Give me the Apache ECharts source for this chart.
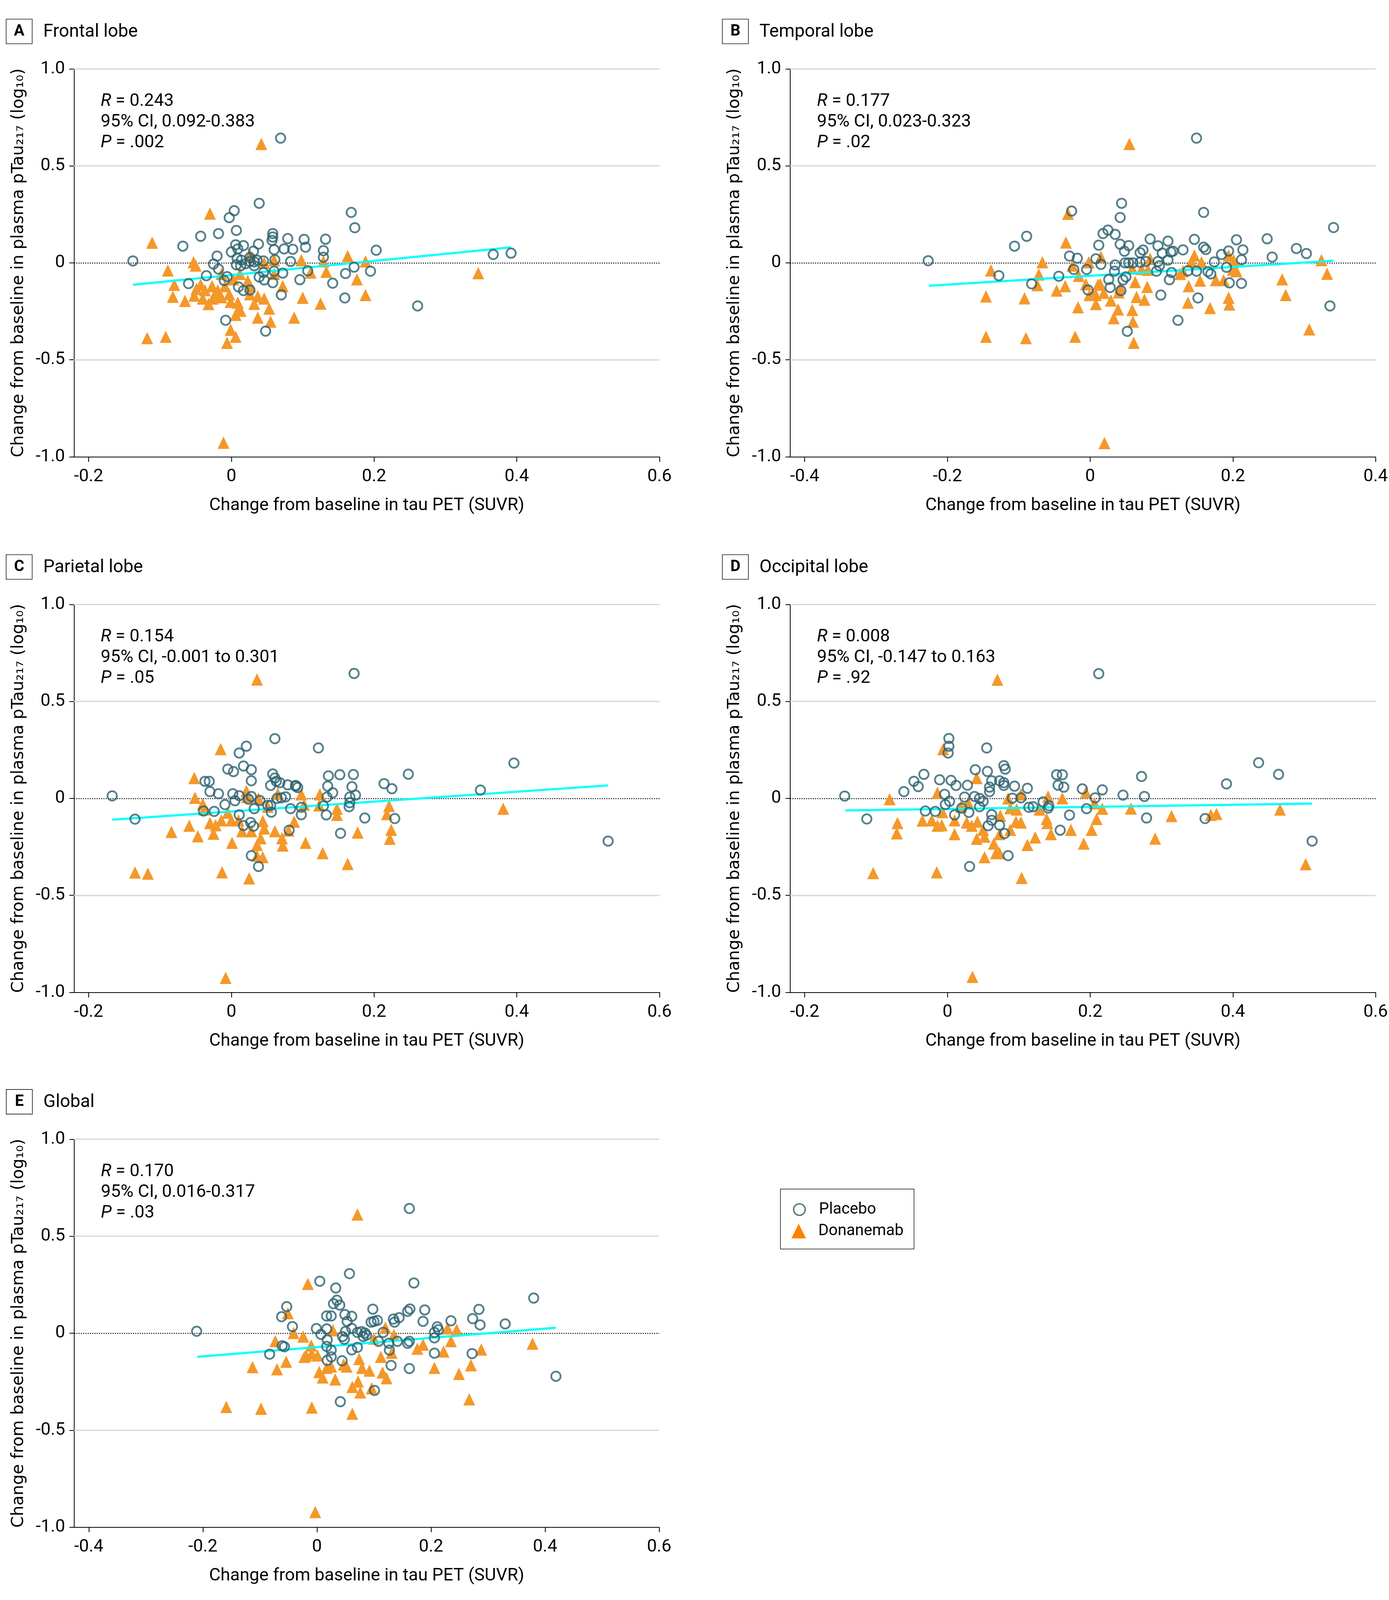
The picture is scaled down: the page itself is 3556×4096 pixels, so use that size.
<!DOCTYPE html>
<html><head><meta charset="utf-8">
<script src="https://cdn.jsdelivr.net/npm/echarts@6/dist/echarts.min.js"></script>
<style>html,body{margin:0;padding:0;background:#fff}#c{width:3556px;height:4096px}</style>
</head><body><div id="c"></div>
<script>
// ---------------- data ----------------
const panelLetters = ['A', 'B', 'C', 'D', 'E'];
const panelTitles = ['Frontal lobe', 'Temporal lobe', 'Parietal lobe', 'Occipital lobe', 'Global'];
const statR = ['0.243', '0.177', '0.154', '0.008', '0.170'];
const statCI = ['0.092-0.383', '0.023-0.323', '-0.001 to 0.301', '-0.147 to 0.163', '0.016-0.317'];
const statP = ['.002', '.02', '.05', '.92', '.03'];

const xTicksFrontal = [-0.2, 0, 0.2, 0.4, 0.6];
const xTicksTemporal = [-0.4, -0.2, 0, 0.2, 0.4];
const xTicksParietal = [-0.2, 0, 0.2, 0.4, 0.6];
const xTicksOccipital = [-0.2, 0, 0.2, 0.4, 0.6];
const xTicksGlobal = [-0.4, -0.2, 0, 0.2, 0.4, 0.6];
const yTicks = [-1, -0.5, 0, 0.5, 1];
const gridLineValues = [1, 0.5, -0.5];
const zeroLineValue = 0;

const frontalPlacebo = [[-0.138,0.010],[0.039,0.307],[0.004,0.269],[-0.003,0.233],[0.168,0.260],[0.173,0.181],[-0.043,0.137],[-0.018,0.151],[0.007,0.167],[-0.068,0.086],[0.058,0.151],[0.058,0.133],[0.057,0.116],[0.079,0.125],[0.102,0.121],[0.132,0.122],[0.038,0.097],[0.006,0.093],[0.017,0.089],[0.000,0.056],[-0.020,0.035],[0.009,0.072],[0.031,0.060],[0.060,0.068],[0.074,0.072],[0.086,0.070],[0.104,0.081],[0.129,0.063],[0.129,0.029],[0.203,0.065],[0.008,0.024],[0.014,0.014],[0.026,0.007],[0.032,0.005],[0.045,0.010],[0.061,0.016],[0.083,0.007],[-0.025,-0.006],[-0.018,-0.032],[0.007,-0.010],[0.020,-0.004],[0.032,-0.015],[0.045,-0.050],[0.060,-0.043],[0.072,-0.053],[0.107,-0.041],[0.172,-0.022],[0.160,-0.055],[0.195,-0.043],[-0.035,-0.066],[-0.006,-0.071],[-0.010,-0.091],[-0.060,-0.107],[0.039,-0.073],[0.046,-0.088],[0.058,-0.102],[0.096,-0.087],[0.142,-0.105],[0.010,-0.124],[0.017,-0.143],[0.026,-0.140],[0.070,-0.165],[0.159,-0.181],[-0.008,-0.296],[0.048,-0.352],[0.261,-0.222],[0.026,0.028],[0.036,0.014],[0.013,-0.015],[0.069,0.643],[0.367,0.043],[0.392,0.050]];
const frontalDonanemab = [[-0.030,0.254],[-0.111,0.104],[-0.053,0.003],[-0.050,-0.014],[-0.089,-0.039],[-0.080,-0.113],[-0.082,-0.175],[-0.065,-0.196],[-0.049,-0.134],[-0.043,-0.113],[-0.052,-0.169],[-0.040,-0.184],[-0.032,-0.212],[-0.027,-0.120],[-0.023,-0.162],[-0.019,-0.141],[-0.014,-0.177],[-0.026,-0.184],[-0.001,-0.201],[-0.003,-0.162],[0.009,-0.205],[0.010,-0.240],[0.013,-0.247],[-0.009,-0.120],[0.003,-0.085],[0.026,-0.120],[0.026,-0.162],[0.037,-0.173],[0.046,-0.184],[0.053,-0.236],[0.037,-0.282],[0.055,-0.303],[-0.001,-0.345],[0.006,-0.381],[-0.006,-0.412],[-0.118,-0.388],[-0.092,-0.381],[0.072,-0.120],[0.088,-0.282],[0.100,-0.180],[0.125,-0.210],[0.176,-0.085],[0.188,-0.166],[0.163,0.035],[0.188,0.007],[0.133,-0.046],[0.111,-0.050],[0.098,0.014],[0.060,0.014],[0.046,0.000],[0.026,0.042],[0.023,-0.092],[0.012,-0.057],[-0.014,-0.057],[-0.037,-0.141],[0.129,0.007],[0.060,-0.057],[0.032,-0.211],[0.006,-0.268],[0.042,0.613],[0.346,-0.053],[-0.011,-0.927]];
const frontalFit = [[-0.138,-0.113],[0.392,0.080]];

const temporalPlacebo = [[0.044,0.307],[-0.026,0.267],[0.042,0.234],[0.159,0.260],[-0.089,0.137],[-0.106,0.086],[0.018,0.151],[0.025,0.169],[0.035,0.147],[0.012,0.091],[0.042,0.096],[0.054,0.089],[0.048,0.060],[0.070,0.052],[0.074,0.066],[0.084,0.123],[0.095,0.088],[0.109,0.112],[0.101,0.050],[0.113,0.056],[0.116,0.060],[0.130,0.067],[0.146,0.121],[0.159,0.081],[0.162,0.069],[0.184,0.043],[0.194,0.061],[0.205,0.119],[0.214,0.067],[0.212,0.016],[0.174,0.005],[0.191,-0.023],[0.137,-0.041],[0.149,-0.043],[0.165,-0.045],[0.169,-0.057],[0.195,-0.103],[0.212,-0.106],[0.151,-0.181],[0.123,-0.296],[0.099,-0.166],[0.111,-0.087],[0.114,-0.050],[0.109,0.014],[0.095,0.007],[0.093,-0.043],[0.097,-0.015],[0.078,0.007],[0.070,0.003],[0.060,0.000],[0.054,0.000],[0.049,0.000],[0.035,-0.011],[0.034,-0.043],[0.015,-0.008],[0.008,0.021],[-0.005,-0.034],[-0.023,-0.034],[-0.018,0.024],[-0.029,0.035],[-0.044,-0.069],[-0.082,-0.108],[-0.128,-0.066],[0.026,-0.086],[0.028,-0.127],[0.046,-0.088],[0.050,-0.072],[0.043,-0.143],[-0.003,-0.140],[0.052,-0.353],[-0.227,0.011],[0.255,0.030],[0.248,0.124],[0.289,0.074],[0.303,0.048],[0.341,0.182],[0.336,-0.222],[0.149,0.643]];
const temporalDonanemab = [[-0.031,0.253],[-0.034,0.105],[-0.067,0.003],[-0.072,-0.060],[-0.074,-0.115],[-0.139,-0.039],[-0.146,-0.173],[-0.092,-0.183],[-0.047,-0.143],[-0.035,-0.120],[-0.025,-0.014],[-0.017,-0.229],[-0.146,-0.381],[-0.090,-0.388],[-0.021,-0.381],[-0.002,0.003],[0.015,0.031],[-0.016,-0.067],[-0.006,-0.110],[-0.001,-0.166],[0.008,-0.166],[0.008,-0.212],[0.011,-0.113],[0.019,-0.155],[0.029,-0.194],[0.039,-0.240],[0.033,-0.285],[0.059,-0.243],[0.060,-0.303],[0.061,-0.412],[0.063,-0.099],[0.065,-0.176],[0.076,-0.190],[0.080,-0.124],[0.040,-0.152],[0.042,-0.127],[0.072,-0.032],[0.084,0.021],[0.081,-0.036],[0.059,-0.029],[0.126,-0.057],[0.138,-0.120],[0.137,-0.205],[0.146,0.038],[0.156,0.003],[0.154,-0.092],[0.168,-0.233],[0.176,-0.089],[0.187,-0.089],[0.194,0.038],[0.194,-0.180],[0.195,-0.215],[0.205,-0.043],[0.201,0.014],[0.142,0.007],[0.130,-0.043],[0.014,-0.110],[0.004,-0.162],[0.200,-0.035],[0.324,0.014],[0.332,-0.056],[0.307,-0.343],[0.269,-0.085],[0.274,-0.166],[0.020,-0.929],[0.055,0.613]];
const temporalFit = [[-0.226,-0.118],[0.341,0.011]];

const parietalPlacebo = [[0.061,0.308],[0.021,0.269],[0.011,0.234],[0.122,0.260],[-0.005,0.151],[0.003,0.138],[0.017,0.167],[0.028,0.148],[0.028,0.091],[-0.037,0.088],[-0.031,0.088],[-0.030,0.035],[-0.018,0.024],[0.058,0.126],[0.061,0.105],[0.063,0.088],[0.055,0.067],[0.068,0.081],[0.079,0.070],[0.090,0.067],[0.093,0.056],[0.136,0.116],[0.152,0.122],[0.171,0.123],[0.248,0.125],[0.214,0.076],[0.225,0.050],[0.135,0.063],[0.142,0.029],[0.169,0.060],[0.174,0.017],[0.166,0.007],[0.134,0.007],[0.129,-0.039],[0.133,-0.085],[0.166,-0.022],[0.165,-0.043],[0.187,-0.101],[0.229,-0.104],[0.153,-0.180],[0.081,-0.164],[0.098,-0.084],[0.098,-0.046],[0.083,-0.053],[0.076,0.008],[0.070,0.003],[0.056,-0.071],[0.055,-0.036],[0.051,-0.036],[0.040,-0.011],[0.028,0.010],[0.024,-0.004],[0.032,-0.053],[0.011,0.014],[0.005,-0.012],[0.002,0.024],[-0.009,-0.032],[-0.024,-0.067],[-0.039,-0.065],[0.011,-0.085],[0.017,-0.140],[0.027,-0.124],[0.031,-0.143],[0.028,-0.295],[0.038,-0.351],[0.090,0.063],[0.064,0.000],[-0.167,0.013],[-0.135,-0.107],[0.172,0.644],[0.349,0.043],[0.396,0.182],[0.528,-0.220]];
const parietalDonanemab = [[-0.015,0.254],[-0.052,0.105],[-0.051,0.003],[-0.040,-0.029],[-0.059,-0.141],[-0.084,-0.173],[-0.047,-0.195],[-0.025,-0.182],[-0.030,-0.127],[-0.022,-0.138],[-0.014,-0.113],[0.000,-0.113],[0.001,-0.229],[-0.005,-0.074],[0.021,0.038],[0.010,-0.113],[0.015,-0.169],[0.028,-0.169],[0.036,-0.240],[0.041,-0.205],[0.044,-0.117],[0.046,-0.155],[0.036,-0.296],[0.044,-0.303],[0.025,-0.412],[-0.013,-0.381],[-0.117,-0.388],[0.061,-0.169],[0.072,-0.243],[0.071,-0.205],[0.065,0.024],[0.088,-0.120],[0.080,-0.166],[0.104,-0.229],[0.098,0.021],[0.102,-0.032],[0.128,-0.282],[0.124,0.021],[0.123,-0.036],[0.148,-0.053],[0.148,-0.085],[0.163,-0.338],[0.177,-0.176],[0.221,-0.039],[0.218,-0.081],[0.224,-0.162],[0.222,-0.208],[0.038,0.000],[0.051,-0.043],[0.022,0.007],[-0.038,-0.057],[-0.135,-0.382],[0.036,0.613],[0.381,-0.053],[-0.008,-0.925]];
const parietalFit = [[-0.167,-0.110],[0.528,0.067]];

const occipitalPlacebo = [[0.002,0.309],[0.002,0.269],[0.001,0.234],[0.055,0.260],[-0.033,0.124],[-0.047,0.088],[-0.041,0.061],[-0.061,0.035],[-0.011,0.096],[0.005,0.093],[0.012,0.067],[0.028,0.068],[0.039,0.148],[0.056,0.139],[0.079,0.169],[0.081,0.151],[0.062,0.091],[0.059,0.058],[0.073,0.091],[0.079,0.081],[0.079,0.067],[0.094,0.063],[0.112,0.052],[0.153,0.122],[0.161,0.122],[0.155,0.068],[0.163,0.058],[0.189,0.049],[0.217,0.044],[0.246,0.017],[0.207,0.003],[0.195,-0.053],[0.171,-0.086],[0.158,-0.164],[0.142,-0.038],[0.134,-0.018],[0.120,-0.043],[0.114,-0.046],[0.103,0.003],[0.091,0.001],[0.059,0.035],[0.045,0.000],[0.050,-0.015],[0.038,0.010],[0.024,0.007],[-0.004,0.021],[0.003,-0.015],[-0.003,-0.032],[-0.017,-0.067],[-0.031,-0.065],[0.020,-0.050],[0.030,-0.072],[0.010,-0.085],[0.045,-0.043],[0.062,-0.084],[0.062,-0.113],[0.057,-0.141],[0.073,-0.138],[0.080,-0.181],[0.085,-0.295],[0.031,-0.351],[0.141,-0.050],[-0.144,0.012],[-0.113,-0.106],[0.212,0.643],[0.391,0.075],[0.436,0.184],[0.464,0.124],[0.361,-0.104],[0.279,-0.101],[0.272,0.113],[0.276,0.010],[0.511,-0.220]];
const occipitalDonanemab = [[-0.006,0.254],[-0.081,-0.004],[-0.070,-0.127],[-0.071,-0.180],[-0.104,-0.385],[-0.015,-0.381],[0.104,-0.410],[-0.014,0.029],[0.041,0.105],[-0.035,-0.114],[-0.022,-0.113],[-0.014,-0.141],[-0.008,-0.138],[0.010,-0.113],[0.010,-0.184],[0.027,-0.124],[0.034,-0.141],[0.042,-0.120],[0.050,-0.162],[0.041,-0.208],[0.052,-0.197],[0.065,-0.233],[0.068,-0.282],[0.073,-0.282],[0.052,-0.303],[0.073,-0.184],[0.074,-0.089],[0.088,-0.162],[0.096,-0.120],[0.103,-0.124],[0.085,0.000],[0.088,-0.050],[0.097,-0.057],[0.103,0.021],[0.123,-0.201],[0.112,-0.240],[0.141,0.010],[0.139,-0.106],[0.140,-0.127],[0.145,-0.184],[0.129,-0.057],[0.161,0.000],[0.173,-0.162],[0.191,-0.233],[0.194,0.031],[0.206,-0.025],[0.217,-0.053],[0.209,-0.106],[0.202,-0.162],[0.257,-0.052],[0.019,-0.043],[-0.007,-0.071],[0.029,-0.022],[0.070,0.612],[0.369,-0.085],[0.377,-0.080],[0.314,-0.091],[0.291,-0.207],[0.466,-0.057],[0.502,-0.339],[0.035,-0.920]];
const occipitalFit = [[-0.143,-0.062],[0.511,-0.027]];

const globalPlacebo = [[0.057,0.307],[0.005,0.268],[0.033,0.233],[0.170,0.259],[-0.053,0.137],[-0.062,0.085],[-0.043,0.034],[-0.061,-0.065],[-0.057,-0.070],[-0.083,-0.108],[-0.001,0.024],[0.007,-0.006],[0.017,0.022],[0.018,-0.034],[0.017,0.089],[0.025,0.089],[0.029,0.152],[0.035,0.170],[0.040,0.145],[0.049,0.096],[0.061,0.087],[0.053,0.061],[0.050,0.009],[0.045,-0.017],[0.061,0.025],[0.071,0.004],[0.078,0.008],[0.084,0.001],[0.087,-0.010],[0.081,-0.017],[0.098,0.124],[0.095,0.057],[0.100,0.061],[0.106,0.066],[0.134,0.073],[0.136,0.057],[0.144,0.080],[0.159,0.113],[0.163,0.125],[0.189,0.120],[0.186,0.061],[0.211,0.033],[0.213,0.018],[0.206,0.004],[0.206,-0.024],[0.235,0.064],[0.284,0.123],[0.273,0.075],[0.286,0.043],[0.330,0.048],[0.272,-0.105],[0.206,-0.103],[0.162,-0.042],[0.159,-0.052],[0.141,-0.042],[0.127,-0.087],[0.126,-0.052],[0.116,0.004],[0.108,-0.042],[0.130,-0.166],[0.162,-0.182],[0.101,-0.295],[0.041,-0.353],[0.017,-0.068],[0.025,-0.087],[0.025,-0.122],[0.018,-0.140],[0.044,-0.142],[0.061,-0.086],[0.071,-0.073],[0.048,-0.031],[-0.211,0.010],[0.162,0.643],[0.380,0.181],[0.419,-0.222]];
const globalDonanemab = [[-0.016,0.254],[-0.051,0.103],[-0.041,0.001],[-0.073,-0.041],[-0.024,-0.017],[-0.010,-0.063],[-0.054,-0.147],[-0.113,-0.175],[-0.070,-0.186],[-0.098,-0.389],[-0.009,-0.383],[0.062,-0.415],[-0.022,-0.122],[-0.009,-0.105],[0.001,-0.115],[0.004,-0.200],[0.010,-0.228],[0.017,-0.179],[0.025,-0.172],[0.032,-0.238],[0.028,0.015],[0.052,-0.172],[0.062,-0.277],[0.076,-0.305],[0.072,-0.249],[0.074,-0.133],[0.079,-0.179],[0.092,-0.193],[0.096,-0.284],[0.112,-0.122],[0.115,-0.203],[0.122,-0.232],[0.120,0.029],[0.135,-0.010],[0.131,-0.101],[0.176,-0.080],[0.186,-0.059],[0.206,-0.179],[0.222,-0.094],[0.229,0.025],[0.235,-0.041],[0.245,0.018],[0.249,-0.210],[0.270,-0.165],[0.267,-0.341],[0.288,-0.084],[0.047,-0.161],[-0.019,-0.115],[0.100,-0.028],[-0.159,-0.380],[0.071,0.612],[0.378,-0.054],[-0.003,-0.922]];
const globalFit = [[-0.210,-0.122],[0.419,0.028]];

// ---------------- layout ----------------
const placeboData = [frontalPlacebo, temporalPlacebo, parietalPlacebo, occipitalPlacebo, globalPlacebo];
const donanemabData = [frontalDonanemab, temporalDonanemab, parietalDonanemab, occipitalDonanemab, globalDonanemab];
const fitData = [frontalFit, temporalFit, parietalFit, occipitalFit, globalFit];
const xTicks = [xTicksFrontal, xTicksTemporal, xTicksParietal, xTicksOccipital, xTicksGlobal];

const layout = [
  {left: 189.3, top: 176.3, width: 1499.1, xMin: -0.2206, xMax: 0.6},
  {left: 2022.9, top: 176.3, width: 1503.9, xMin: -0.4204, xMax: 0.4},
  {left: 189.3, top: 1547.3, width: 1499.1, xMin: -0.2206, xMax: 0.6},
  {left: 2022.9, top: 1547.3, width: 1503.9, xMin: -0.2204, xMax: 0.6},
  {left: 189.7, top: 2916.4, width: 1497.8, xMin: -0.4258, xMax: 0.6}
];
const PH = 993.2;
const FONT = 'Roboto';
const PLACEBO_COLOR = '#2C6170';
const DONA_COLOR = '#F4982A';

const fmtX = v => (Math.abs(v) < 1e-9 ? '0' : String(Math.round(v * 10) / 10));
const fmtY = v => (Math.abs(v) < 1e-9 ? '0' : v.toFixed(1));

const grids = [], xAxes = [], yAxes = [], series = [], graphics = [];

layout.forEach((g, i) => {
  grids.push({left: g.left, top: g.top, width: g.width, height: PH, containLabel: false});
  xAxes.push({
    gridIndex: i, type: 'value', min: g.xMin, max: g.xMax,
    axisLine: {show: true, onZero: false, lineStyle: {color: '#000', width: 2}},
    axisTick: {show: true, length: 13, customValues: xTicks[i], lineStyle: {color: '#000', width: 2}},
    axisLabel: {customValues: xTicks[i], formatter: fmtX, margin: 29, fontFamily: FONT, fontSize: 45, color: '#000'},
    splitLine: {show: false},
    name: 'Change from baseline in tau PET (SUVR)', nameLocation: 'middle', nameGap: 103,
    nameTextStyle: {fontFamily: FONT, fontSize: 45, color: '#000'}
  });
  yAxes.push({
    gridIndex: i, type: 'value', min: -1, max: 1, interval: 0.5,
    axisLine: {show: true, onZero: false, lineStyle: {color: '#000', width: 2}},
    axisTick: {show: true, length: 12, lineStyle: {color: '#000', width: 2}},
    axisLabel: {formatter: fmtY, margin: 23, fontFamily: FONT, fontSize: 45, color: '#000'},
    splitLine: {show: false},
    name: 'Change from baseline in plasma pTau\u2082\u2081\u2087 (log\u2081\u2080)',
    nameLocation: 'middle', nameGap: 120, nameRotate: 90,
    nameTextStyle: {fontFamily: 'DejaVu Sans', fontSize: 42.5, color: '#000'}
  });

  const mlData = gridLineValues.map(v => ({yAxis: v, lineStyle: {color: '#D9D9D9', width: 3.3, type: 'solid'}}));
  mlData.push({yAxis: zeroLineValue, lineStyle: {color: '#000', width: 2.6, type: [2.6, 3.2]}});

  series.push({
    type: 'scatter', name: 'Donanemab', xAxisIndex: i, yAxisIndex: i,
    data: donanemabData[i], symbol: 'triangle', symbolSize: [30.4, 31.4],
    itemStyle: {color: DONA_COLOR, opacity: 1}, z: 2,
    emphasis: {disabled: true},
    markLine: {silent: true, symbol: ['none', 'none'], label: {show: false}, z: 1, animation: false, data: mlData}
  });
  series.push({
    type: 'line', name: 'fit', xAxisIndex: i, yAxisIndex: i, data: fitData[i],
    symbol: 'none', showSymbol: false, silent: true, z: 3,
    lineStyle: {color: '#00FFFF', width: 5.5}
  });
  series.push({
    type: 'scatter', name: 'Placebo', xAxisIndex: i, yAxisIndex: i,
    data: placeboData[i], symbol: 'circle', symbolSize: 24,
    itemStyle: {color: 'rgba(255,255,255,0)', borderColor: PLACEBO_COLOR, borderWidth: 4.5}, z: 4,
    emphasis: {disabled: true}
  });

  const L = g.left, T = g.top;
  graphics.push({type: 'rect', shape: {x: L - 173.6, y: T - 127.3, width: 66.7, height: 63},
    style: {fill: '#fff', stroke: '#1a1a1a', lineWidth: 1.6}});
  graphics.push({type: 'text', x: L - 140.25, y: T - 95.8,
    style: {text: panelLetters[i], fontFamily: FONT, fontWeight: 'bold', fontSize: 40, fill: '#000', align: 'center', verticalAlign: 'middle'}});
  graphics.push({type: 'text', x: L - 78.6, y: T - 93.6,
    style: {text: panelTitles[i], fontFamily: FONT, fontSize: 46, fill: '#000', align: 'left', verticalAlign: 'middle'}});
  graphics.push({type: 'text', x: L + 68.5, y: T + 56.5,
    style: {
      text: '{i|R} = ' + statR[i] + '\n95% CI, ' + statCI[i] + '\n{i|P} = ' + statP[i],
      fontFamily: FONT, fontSize: 45, lineHeight: 53, fill: '#000', align: 'left', verticalAlign: 'top',
      rich: {i: {fontFamily: FONT, fontSize: 45, fontStyle: 'italic', lineHeight: 53, fill: '#000'}}
    }});
});

graphics.push({type: 'rect', shape: {x: 1998, y: 3044, width: 342, height: 153.5},
  style: {fill: 'none', stroke: '#111', lineWidth: 1.5}});

const option = {
  animation: false,
  backgroundColor: '#fff',
  grid: grids, xAxis: xAxes, yAxis: yAxes, series: series,
  graphic: {elements: graphics},
  legend: [
    {data: [{name: 'Placebo', icon: 'circle', itemStyle: {color: '#fff', borderColor: '#2D5A5C', borderWidth: 3.7}}],
     left: 2030, top: 3076, itemWidth: 29.5, itemHeight: 29.5, padding: 0, selectedMode: false,
     textStyle: {fontFamily: FONT, fontSize: 40.5, color: '#000', padding: [0, 0, 0, 30.5]}},
    {data: [{name: 'Donanemab', icon: 'triangle', itemStyle: {color: '#FF8000', borderWidth: 0}}],
     left: 2026, top: 3131, itemWidth: 37.5, itemHeight: 37.5, padding: 0, selectedMode: false,
     textStyle: {fontFamily: FONT, fontSize: 40.5, color: '#000', padding: [0, 0, 0, 26.5]}}
  ]
};

const chart = echarts.init(document.getElementById('c'), null, {renderer: 'canvas', width: 3556, height: 4096});
chart.setOption(option);
</script>
</body></html>
